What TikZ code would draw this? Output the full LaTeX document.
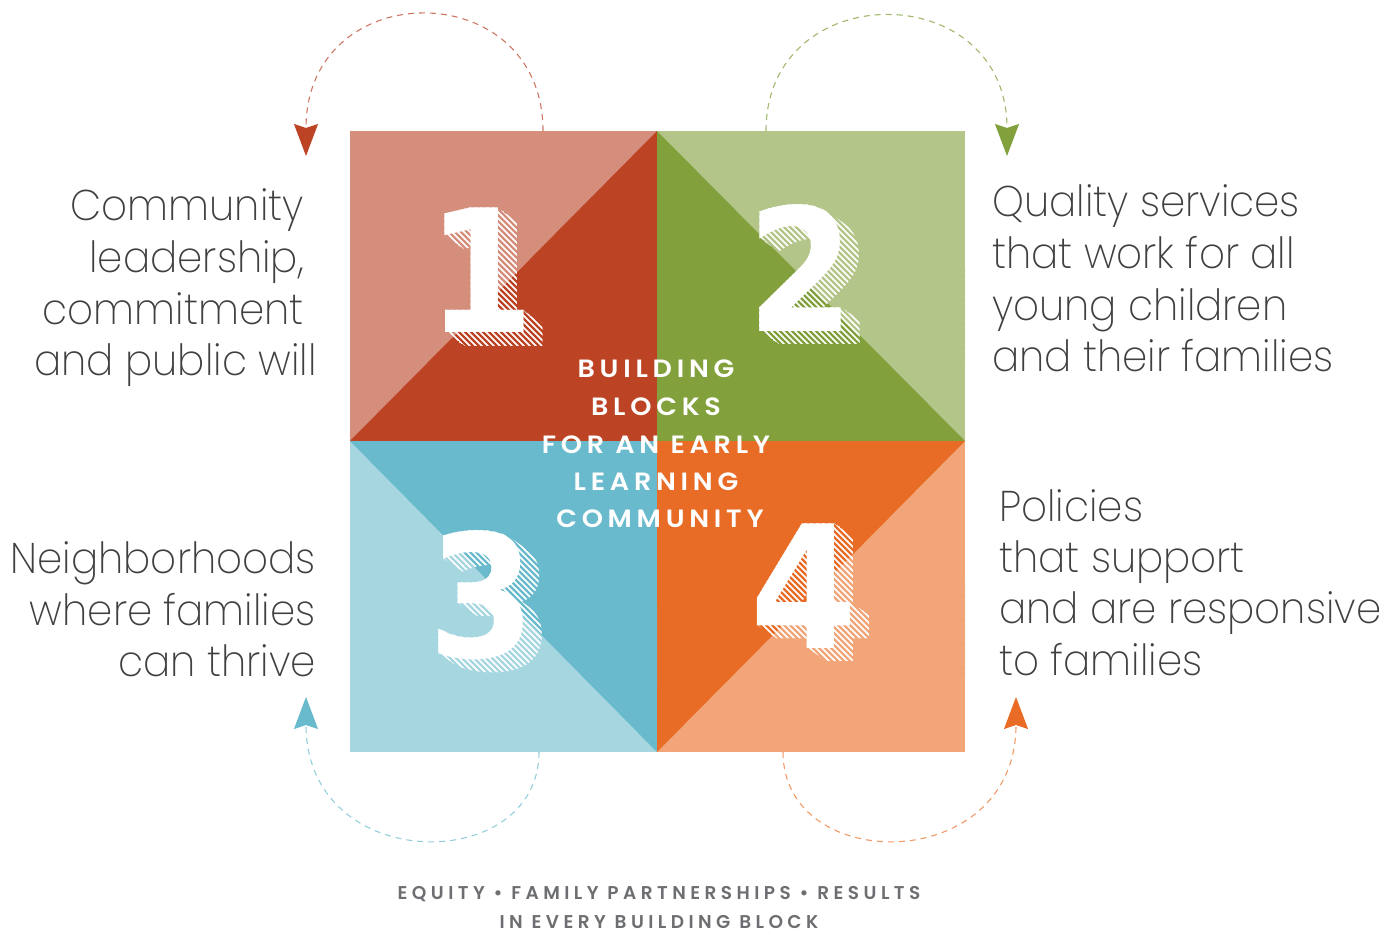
\documentclass[tikz,border=0pt]{standalone}
\usepackage{fontspec}
\usetikzlibrary{arrows.meta}
\newfontfamily\digitfont{DejaVu Sans Condensed Bold}
\newfontfamily\labelfont{Poppins ExtraLight}[FakeStretch=0.94]
\newfontfamily\capsfont{Poppins SemiBold}[LetterSpace=19, FakeStretch=1.08]
\newfontfamily\footfont{Poppins SemiBold}[LetterSpace=24]
\definecolor{redL}{HTML}{D58E7C}
\definecolor{redD}{HTML}{BC4425}
\definecolor{grnL}{HTML}{B4C58A}
\definecolor{grnD}{HTML}{82A13D}
\definecolor{bluL}{HTML}{A6D6E0}
\definecolor{bluD}{HTML}{69BACD}
\definecolor{orgL}{HTML}{F2A579}
\definecolor{orgD}{HTML}{E86C25}
\definecolor{txt}{HTML}{404040}
\definecolor{foot}{HTML}{6D6E71}
\tikzset{
  digit/.style={font=\digitfont\fontsize{171}{171}\selectfont, text=white, inner sep=0pt, anchor=base},
  lab/.style={font=\labelfont\fontsize{43}{43}\selectfont, text=txt, inner sep=0pt},
  caps/.style={font=\capsfont\fontsize{25}{25}\selectfont, text=white, inner sep=0pt, anchor=base},
  foottext/.style={font=\footfont\fontsize{18.5}{18.5}\selectfont, text=foot, inner sep=0pt, anchor=base},
  loop/.style={dash pattern=on 6pt off 5pt, line width=1.1pt},
  tipstyle/.style={-{Stealth[length=32pt, width=24pt, inset=4pt, #1]}}
}
% #1 name, #2 digit, #3 x, #4 y(base), #5 light, #6 dark, #7 light triangle, #8 dark triangle
\newcommand\numblock[8]{%
  \foreach \t in {0,...,24}{\node[digit] (#1s\t) at (#3+0.8*\t,#4+0.56*\t) {#2};}
  \begin{scope}
    \clip #7;
    \foreach \k in {0,...,50}{\draw[#5, line width=2.2pt] (#3-215+6*\k,#4-140) -- ++(170,170);}
  \end{scope}
  \begin{scope}
    \clip #8;
    \foreach \k in {0,...,50}{\draw[#6, line width=2.2pt] (#3-215+6*\k,#4-140) -- ++(170,170);}
  \end{scope}
  \node[digit] (#1) at (#3,#4) {#2};
}
\begin{document}
\begin{tikzpicture}[x=1pt,y=-1pt]
\useasboundingbox (0,0) rectangle (1384,933);
% quadrants
\fill[redL] (350,131) rectangle (657,441);
\fill[redD] (657,131) -- (657,441) -- (350,441) -- cycle;
\fill[grnL] (657,131) rectangle (965,441);
\fill[grnD] (657,131) -- (657,441) -- (965,441) -- cycle;
\fill[bluL] (350,441) rectangle (657,752);
\fill[bluD] (350,441) -- (657,441) -- (657,752) -- cycle;
\fill[orgL] (657,441) rectangle (965,752);
\fill[orgD] (657,441) -- (965,441) -- (657,752) -- cycle;
% numbers
\numblock{n1}{1}{481}{333}{redL}{redD}{(350,131) -- (657,131) -- (350,441) -- cycle}{(657,131) -- (657,441) -- (350,441) -- cycle}
\numblock{n2}{2}{801}{331}{grnL}{grnD}{(657,131) -- (965,131) -- (965,441) -- cycle}{(657,131) -- (657,441) -- (965,441) -- cycle}
\numblock{n3}{3}{482}{657}{bluL}{bluD}{(350,441) -- (657,752) -- (350,752) -- cycle}{(350,441) -- (657,441) -- (657,752) -- cycle}
\numblock{n4}{4}{804}{648}{orgL}{orgD}{(965,441) -- (965,752) -- (657,752) -- cycle}{(657,441) -- (965,441) -- (657,752) -- cycle}
% centre title
\node[caps] (c1) at (656,377) {BUILDING};
\node[caps] (c2) at (656,415) {BLOCKS};
\node[caps] (c3) at (656,453) {FOR AN EARLY};
\node[caps] (c4) at (656,490) {LEARNING};
\node[caps] (c5) at (660,527) {COMMUNITY};
% labels
\node[lab, anchor=base east] (l1a) at (304,221) {Community};
\node[lab, anchor=base east] (l1b) at (304,273) {leadership,};
\node[lab, anchor=base east] (l1c) at (304,324) {commitment};
\node[lab, anchor=base east] (l1d) at (317,375) {and public will};
\node[lab, anchor=base west] (l2a) at (992,217) {Quality services};
\node[lab, anchor=base west] (l2b) at (992,269) {that work for all};
\node[lab, anchor=base west] (l2c) at (992,320) {young children};
\node[lab, anchor=base west] (l2d) at (992,371) {and their families};
\node[lab, anchor=base east] (l3a) at (316,573) {Neighborhoods};
\node[lab, anchor=base east] (l3b) at (316,625) {where families};
\node[lab, anchor=base east] (l3c) at (316,676) {can thrive};
\node[lab, anchor=base west] (l4a) at (999,521) {Policies};
\node[lab, anchor=base west] (l4b) at (999,572) {that support};
\node[lab, anchor=base west] (l4c) at (999,623) {and are responsive};
\node[lab, anchor=base west] (l4d) at (999,675) {to families};
% footer
\node[foottext] (f1) at (659,899) {EQUITY • FAMILY PARTNERSHIPS • RESULTS};
\node[foottext] (f2) at (659,928) {IN EVERY BUILDING BLOCK};
% loop arrows
\coordinate (a1s) at (543,131); \coordinate (a1e) at (306,156);
\coordinate (a2s) at (766,131); \coordinate (a2e) at (1007,156);
\coordinate (a3s) at (539,752); \coordinate (a3e) at (306,697);
\coordinate (a4s) at (783,752); \coordinate (a4e) at (1016,697);
\draw[loop, color=redL!70!redD, tipstyle={color=redD}] (a1s) .. controls (543,-26) and (306,-26) .. (a1e);
\draw[loop, color=grnL!60!grnD, tipstyle={color=grnD}] (a2s) .. controls (766,-24) and (1007,-24) .. (a2e);
\draw[loop, color=bluL!70!bluD, tipstyle={color=bluD}] (a3s) .. controls (539,876) and (306,876) .. (a3e);
\draw[loop, color=orgL!80!orgD, tipstyle={color=orgD}] (a4s) .. controls (783,876) and (1016,876) .. (a4e);
\end{tikzpicture}
\end{document}
